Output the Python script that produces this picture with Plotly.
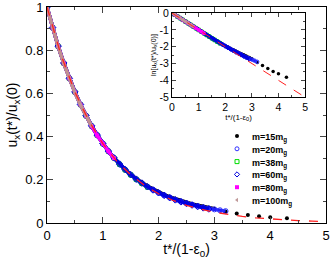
import numpy as np
import plotly.graph_objects as go

# ---- data ----
t15 = [0.0,0.1,0.2,0.3,0.4,0.5,0.6,0.7,0.8,0.9,1.0,1.1,1.2,1.3,1.4,1.5,1.6,1.7,1.8,1.9,
       2.0,2.1,2.2,2.3,2.4,2.5,2.6,2.7,2.8,2.9,3.0,3.2,3.4,3.6,3.8,4.0,4.3]
u15 = [1.000,0.905,0.819,0.741,0.670,0.607,0.549,0.497,0.449,0.407,0.368,0.333,0.302,0.274,
       0.248,0.225,0.205,0.187,0.171,0.157,0.143,0.132,0.121,0.112,0.103,0.095,0.088,0.082,
       0.076,0.071,0.066,0.053,0.044,0.037,0.031,0.027,0.022]
t20 = [0.0,0.1,0.2,0.3,0.4,0.5,0.6,0.7,0.8,0.9,1.0,1.1,1.2,1.3,1.4,1.5,1.6,1.7,1.8,1.9,
       2.0,2.1,2.2,2.3,2.4,2.5,2.6,2.7,2.8,2.9,3.0,3.1,3.2]
u20 = [1.000,0.904,0.818,0.740,0.669,0.606,0.548,0.496,0.448,0.406,0.367,0.332,0.300,0.272,
       0.246,0.223,0.202,0.184,0.168,0.154,0.140,0.128,0.118,0.108,0.100,0.092,0.085,0.078,
       0.072,0.067,0.063,0.059,0.055]
t38 = [0.0,0.1,0.2,0.3,0.4,0.5,0.6,0.7,0.8,0.9,1.0,1.1,1.2,1.3,1.4,1.5,1.6,1.7,1.8]
u38 = [1.000,0.905,0.818,0.740,0.669,0.606,0.548,0.496,0.449,0.406,0.367,0.332,0.301,0.272,
       0.246,0.223,0.202,0.183,0.166]
t60 = [0.0,0.1,0.2,0.3,0.4,0.5,0.6,0.7,0.8,0.9,1.0,1.1,1.2,1.3,1.4,1.5,1.6,1.7,1.8,1.9,
       2.0,2.1,2.2,2.3,2.4,2.5,2.6,2.7,2.8,2.9]
u60 = [1.000,0.905,0.819,0.741,0.670,0.607,0.549,0.497,0.450,0.407,0.368,0.333,0.302,0.273,
       0.248,0.224,0.203,0.185,0.168,0.153,0.140,0.128,0.117,0.107,0.098,0.090,0.083,0.076,
       0.070,0.065]
t80 = [0.0,0.1,0.2,0.3,0.4,0.5,0.6,0.7,0.8,0.9,1.0,1.1,1.2]
u80 = [1.000,0.904,0.818,0.740,0.669,0.605,0.548,0.496,0.448,0.405,0.367,0.332,0.300]
t100 = [0.0,0.1,0.2,0.3,0.4,0.5,0.6,0.7,0.8]
u100 = [1.000,0.903,0.817,0.739,0.668,0.604,0.547,0.495,0.448]

t_theory = [0.0,0.25,0.5,0.75,1.0,1.25,1.5,1.75,2.0,2.25,2.5,2.75,3.0,3.25,3.5,3.75,
            4.0,4.25,4.5,4.75,5.0]
u_theory = [1.000,0.7788,0.6065,0.4724,0.3679,0.2865,0.2231,0.1738,0.1353,0.1054,0.0821,
            0.0639,0.0498,0.0388,0.0302,0.0235,0.0183,0.0143,0.0111,0.0087,0.0067]

labels = ["m=15m<sub>g</sub>", "m=20m<sub>g</sub>", "m=38m<sub>g</sub>",
          "m=60m<sub>g</sub>", "m=80m<sub>g</sub>", "m=100m<sub>g</sub>"]

main_y_ticks = [0, 0.2, 0.4, 0.6, 0.8, 1]
main_y_text = ["0", "0.2", "0.4", "0.6", "0.8", "1"]
inset_y_ticks = [-5, -4, -3, -2, -1, 0]
inset_y_text = ["-5", "-4", "-3", "-2", "-1", "0"]

series = [
    (t15, u15, "black", dict(symbol="circle", size=4, color="black"), 31),
    (t20, u20, "#2020ff", dict(symbol="circle-open", size=5, color="#3030ff", line=dict(width=1)), None),
    (t38, u38, "#00dd00", dict(symbol="square-open", size=4, color="#00dd00", line=dict(width=1)), None),
    (t60, u60, "#0000e0", dict(symbol="diamond-open", size=5, color="#0000e0", line=dict(width=1)), None),
    (t80, u80, "#ff00ff", dict(symbol="square", size=4, color="#ff00ff"), None),
    (t100, u100, "#c09090", dict(symbol="triangle-left", size=4, color="#c09a9a"), None),
]

# layout constants for a compact hand-placed legend (pixel coordinates on an overlay axis)
W, H = 332, 261
ML, MR, MT, MB = 47, 6, 7, 38
LEG_X, LEG_Y0, LEG_DY, LEG_TX = 237, 136, 12.8, 250

fig = go.Figure()
annotations = []
for i, ((t, u, col, mk, nband), lab) in enumerate(zip(series, labels)):
    tb = t[:nband] if nband else t
    ub = u[:nband] if nband else u
    lnb = list(np.log(ub))
    ln = list(np.log(u))
    fig.add_trace(go.Scatter(x=tb, y=ub, mode="lines", line=dict(color=col, width=3.5),
                             showlegend=False, hoverinfo="skip"))
    fig.add_trace(go.Scatter(x=t, y=u, mode="markers", marker=mk, name=lab, showlegend=False))
    fig.add_trace(go.Scatter(x=tb, y=lnb, mode="lines", line=dict(color=col, width=3),
                             showlegend=False, xaxis="x2", yaxis="y2", hoverinfo="skip"))
    fig.add_trace(go.Scatter(x=t, y=ln, mode="markers", marker=dict(mk, size=3.5),
                             showlegend=False, xaxis="x2", yaxis="y2"))
    ly = LEG_Y0 + i * LEG_DY
    fig.add_trace(go.Scatter(x=[LEG_X], y=[ly], mode="markers", marker=dict(mk, size=4),
                             showlegend=False, xaxis="x3", yaxis="y3", hoverinfo="skip"))
    annotations.append(dict(x=LEG_TX, y=ly, xref="x3", yref="y3", text="<b>" + lab + "</b>",
                            showarrow=False, xanchor="left", yanchor="middle",
                            font=dict(size=9, color="black"), yshift=-2))

fig.add_trace(go.Scatter(x=t_theory, y=u_theory, mode="lines",
                         line=dict(color="#ff2020", width=1.3, dash="dash"), showlegend=False))
fig.add_trace(go.Scatter(x=t_theory, y=list(np.log(u_theory)), mode="lines",
                         line=dict(color="#ff2020", width=1, dash="dash"), showlegend=False,
                         xaxis="x2", yaxis="y2"))

fnt = "Liberation Sans, Arial, sans-serif"
fig.update_layout(
    width=W, height=H,
    margin=dict(l=ML, r=MR, t=MT, b=MB, autoexpand=False),
    paper_bgcolor="white", plot_bgcolor="white",
    font=dict(family=fnt, color="black"),
    showlegend=False,
    annotations=annotations,
    xaxis=dict(range=[0, 5], dtick=1, ticks="inside", ticklen=6, mirror="ticks",
               showline=True, linecolor="black", linewidth=1, showgrid=False, zeroline=False,
               tickfont=dict(size=13), minor=dict(dtick=0.5, ticks="inside", ticklen=3),
               automargin=False, ticklabeloverflow="allow",
               title=dict(text="t*/(1-ε<sub>0</sub>)", font=dict(size=14), standoff=2)),
    yaxis=dict(range=[0, 1.0001], tickvals=main_y_ticks, ticktext=main_y_text,
               ticks="inside", ticklen=6, mirror="ticks",
               showline=True, linecolor="black", linewidth=1, showgrid=False, zeroline=False,
               tickfont=dict(size=13), minor=dict(dtick=0.1, ticks="inside", ticklen=3),
               automargin=False, ticklabeloverflow="allow",
               title=dict(text="u<sub>x</sub>(t*)/u<sub>x</sub>(0)", font=dict(size=14), standoff=4)),
    xaxis2=dict(domain=[0.448, 0.925], anchor="y2", range=[0, 5], dtick=1, ticks="inside",
                ticklen=4, mirror="ticks", showline=True, linecolor="black", linewidth=1,
                showgrid=False, zeroline=False, tickfont=dict(size=10.5), automargin=False,
                ticklabeloverflow="allow",
                minor=dict(dtick=0.5, ticks="inside", ticklen=2),
                title=dict(text="t*/(1-ε<sub>0</sub>)", font=dict(size=8), standoff=0)),
    yaxis2=dict(domain=[0.583, 0.972], anchor="x2", range=[-5, 0.0001],
                tickvals=inset_y_ticks, ticktext=inset_y_text, ticks="inside",
                ticklen=4, mirror="ticks", showline=True, linecolor="black", linewidth=1,
                showgrid=False, zeroline=False, tickfont=dict(size=10.5), automargin=False,
                ticklabeloverflow="allow",
                minor=dict(dtick=0.5, ticks="inside", ticklen=2),
                title=dict(text="ln[u<sub>x</sub>(t*)/u<sub>x</sub>(0)]", font=dict(size=7), standoff=2)),
    xaxis3=dict(domain=[0, 1], anchor="y3", overlaying="x", range=[ML, W - MR], visible=False),
    yaxis3=dict(domain=[0, 1], anchor="x3", overlaying="y", range=[H - MB, MT], visible=False),
)
fig.write_html("out.html", config={"displayModeBar": False},
               post_script="document.body.style.margin='0px';")
